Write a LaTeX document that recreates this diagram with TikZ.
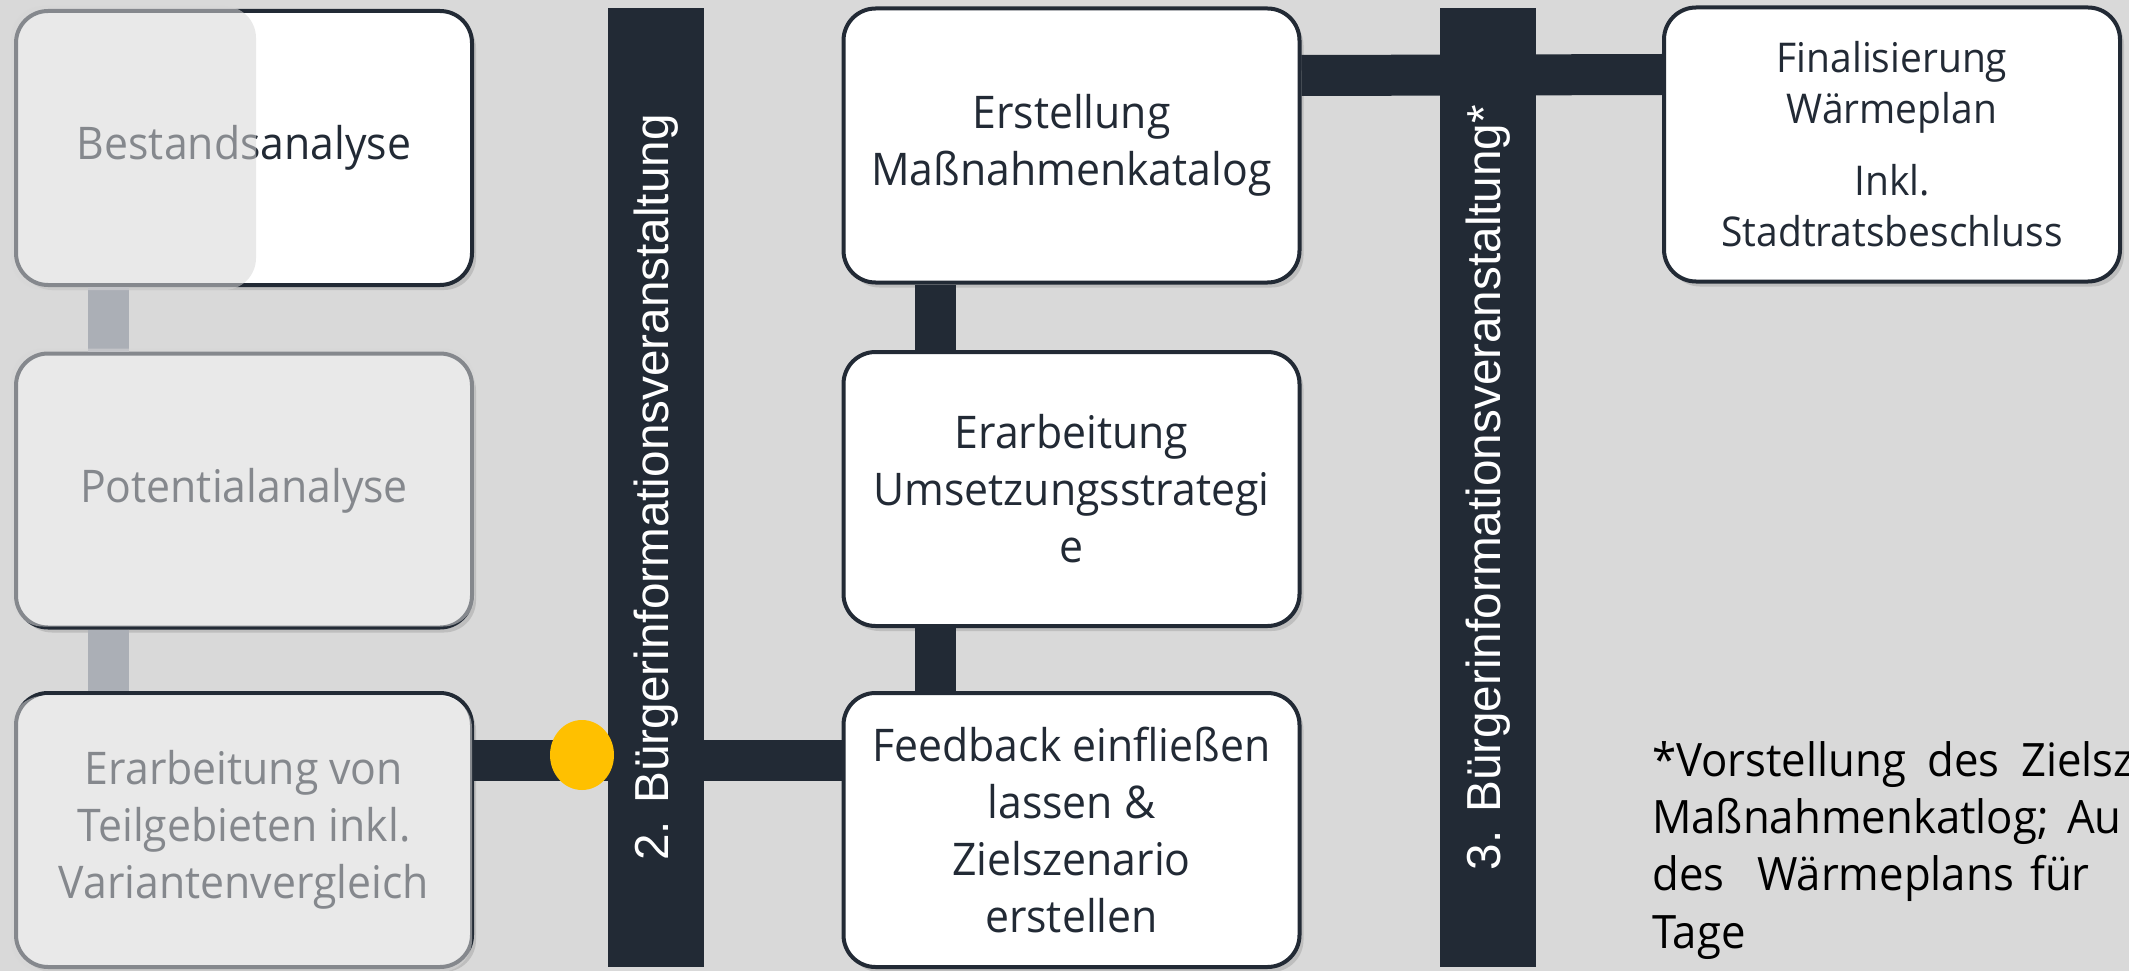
\documentclass[tikz,border=0pt]{standalone}
\usepackage{fontspec}
\setmainfont{Open Sans}[FakeStretch=0.95]
\newfontfamily\balkenschrift{Liberation Sans}
\usetikzlibrary{shadows}

\definecolor{dunkel}{HTML}{222A35}
\definecolor{hintergrund}{HTML}{D9D9D9}
\definecolor{blende}{HTML}{D7D7D7}
\definecolor{grauverb}{HTML}{ABAFB6}
\definecolor{gelb}{HTML}{FFC000}

\tikzset{
kasten/.style = {rectangle, rounded corners=32pt, draw=dunkel, line width=4pt,
                 fill=white, minimum width=456pt, minimum height=274pt,
                 inner sep=0pt, align=center, text=dunkel,
                 font=\fontsize{45}{57}\selectfont,
                 drop shadow={shadow xshift=4pt, shadow yshift=-5pt, opacity=0.3}}
                }
\tikzset{
balken/.style = {rectangle, fill=dunkel, text=white, rotate=90,
                 minimum width=959pt, minimum height=96pt, inner sep=0pt,
                 font=\balkenschrift\fontsize{47.7}{50}\selectfont}
         }
\tikzset{
verbinder/.style = {draw=dunkel, line width=41pt},
verbindergrau/.style = {draw=grauverb, line width=41pt},
abblenden/.style = {fill=blende, fill opacity=0.55, rounded corners=32pt},
fusswort/.style = {anchor=base west, inner sep=0pt, text=black,
                   font=\fontsize{46}{57}\selectfont}
         }

\begin{document}
\begin{tikzpicture}[x=1pt,y=-1pt]

    % HINTERGRUND
    \fill[hintergrund] (0,0) rectangle (2129,971);
    \useasboundingbox (0,0) rectangle (2129,971);
    \clip (0,0) rectangle (2129,971);

    % KAESTEN
    \node[kasten] (bestand)    at (244,148)   {Bestandsanalyse};
    \node[kasten] (potential)  at (244,490.5) {Potentialanalyse};
    \node[kasten] (erarbvar)   at (244,830)   {Erarbeitung von\\Teilgebieten inkl.\\Variantenvergleich};

    \node[kasten] (erstellung) at (1071.5,145.5) {Erstellung\\Maßnahmenkatalog};
    \node[kasten] (umsetzung)  at (1071.5,489)   {Erarbeitung\\Umsetzungsstrategi\\e};
    \node[kasten] (feedback)   at (1071.5,830)   {Feedback einfließen\\lassen \&\\Zielszenario\\erstellen};

    \node[kasten, font=\fontsize{41}{51}\selectfont] (final) at (1892,144.5)
        {Finalisierung\\Wärmeplan\\[21pt]Inkl.\\Stadtratsbeschluss};

    % VERBINDUNGEN
    \draw[verbindergrau] ([xshift=-136pt]bestand.south)   -- ([xshift=-136pt]potential.north);
    \draw[verbindergrau] ([xshift=-136pt]potential.south) -- ([xshift=-136pt]erarbvar.north);
    \draw[verbinder] ([xshift=-136pt]erstellung.south) -- ([xshift=-136pt]umsetzung.north);
    \draw[verbinder] ([xshift=-136pt]umsetzung.south)  -- ([xshift=-136pt]feedback.north);
    \draw[verbinder] ([yshift=70pt]erarbvar.east)   -- ([yshift=70pt]feedback.west);
    \draw[verbinder] ([yshift=70pt]erstellung.east) -- ([yshift=70pt]final.west);

    % BUERGERINFORMATIONEN
    \node[balken] (info2) at (656,487.5)  {2. Bürgerinformationsveranstaltung};
    \node[balken] (info3) at (1488,487.5) {3. Bürgerinformationsveranstaltung*};

    % ABGEBLENDET
    \fill[abblenden] ([shift={(-3pt,3pt)}]bestand.north west) rectangle ([shift={(242pt,-3pt)}]bestand.south west);
    \fill[abblenden] ([shift={(-3pt,3pt)}]potential.north west) rectangle ([shift={(1pt,3pt)}]potential.south east);
    \fill[abblenden] ([shift={(-3pt,-5pt)}]erarbvar.north west) rectangle ([shift={(-2pt,-3pt)}]erarbvar.south east);

    % MARKIERUNG
    \fill[gelb] (582,755) ellipse [x radius=32, y radius=35];

    % FUSSNOTE
    \foreach \wort/\x/\y [count=\i] in {*Vorstellung/1652/776, des/1927/776, Zielsz/2021/776,
                                        {Maßnahmenkatlog;}/1652/833, Au/2067/833,
                                        des/1652/890, Wärmeplans/1757/890, für/2030/890,
                                        Tage/1652/948}
        \node[fusswort] (fuss\i) at (\x,\y) {\wort};

\end{tikzpicture}
\end{document}
